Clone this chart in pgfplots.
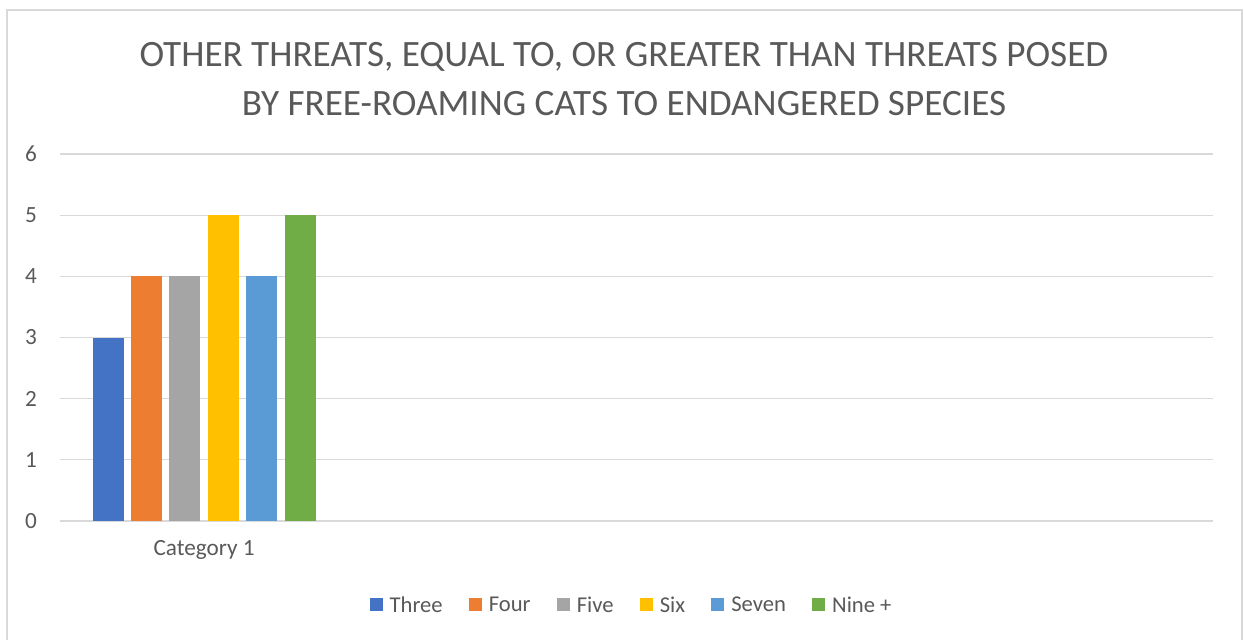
\documentclass[border=0pt]{standalone}
\usepackage{pgfplots}
\pgfplotsset{compat=1.18}
\usepackage{fontspec}
\setmainfont{Carlito}
\definecolor{c1}{HTML}{4472C4}
\definecolor{c2}{HTML}{ED7D31}
\definecolor{c3}{HTML}{A5A5A5}
\definecolor{c4}{HTML}{FFC000}
\definecolor{c5}{HTML}{5B9BD5}
\definecolor{c6}{HTML}{70AD47}
\definecolor{txt}{HTML}{595959}
\definecolor{grd}{HTML}{D9D9D9}
\begin{document}
\begin{tikzpicture}
\path[use as bounding box] (0,0) rectangle (622pt,319.5pt);
\draw[grd, line width=0.8pt] (3.5pt,-5pt) -- (3.5pt,314.5pt) -- (621pt,314.5pt) -- (621pt,-5pt);
\node[txt, font=\fontsize{18.6}{22}\selectfont, align=center] at (312pt, 291pt) {OTHER THREATS, EQUAL TO, OR GREATER THAN THREATS POSED};
\node[txt, font=\fontsize{18.6}{22}\selectfont, align=center] at (312pt, 267.5pt) {BY FREE-ROAMING CATS TO ENDANGERED SPECIES};
\begin{axis}[
  at={(30pt,59pt)}, anchor=south west,
  scale only axis, width=576.5pt, height=183.5pt,
  ymin=0, ymax=6, ytick={0,1,...,6},
  xmin=-0.5, xmax=3.5, xtick={0}, xticklabels={Category 1},
  ybar=3.7pt, bar width=15.5pt,
  axis line style={draw=none},
  major tick length=0pt,
  ymajorgrids, grid style={grd, line width=0.6pt},
  ticklabel style={font=\fontsize{11.6}{13}\selectfont, text=txt},
  /pgf/number format/assume math mode=true,
  yticklabel style={xshift=-8pt},
  xticklabel style={yshift=-6pt},
  legend style={at={(0.4966,-0.232)}, anchor=center, draw=none, legend columns=-1,
    font=\fontsize{11.3}{13}\selectfont, text=txt,
    /tikz/every odd column/.append style={column sep=1.5pt},
    /tikz/every even column/.append style={column sep=11.1pt}},
  legend image code/.code={\fill[#1] (0pt,-2.5pt) rectangle (6.5pt,4pt);},
]
\addplot[fill=c1, draw=none] coordinates {(0,3)};
\addplot[fill=c2, draw=none] coordinates {(0,4)};
\addplot[fill=c3, draw=none] coordinates {(0,4)};
\addplot[fill=c4, draw=none] coordinates {(0,5)};
\addplot[fill=c5, draw=none] coordinates {(0,4)};
\addplot[fill=c6, draw=none] coordinates {(0,5)};
\legend{Three, Four, Five, Six, Seven, Nine +}
\end{axis}
\end{tikzpicture}
\end{document}
